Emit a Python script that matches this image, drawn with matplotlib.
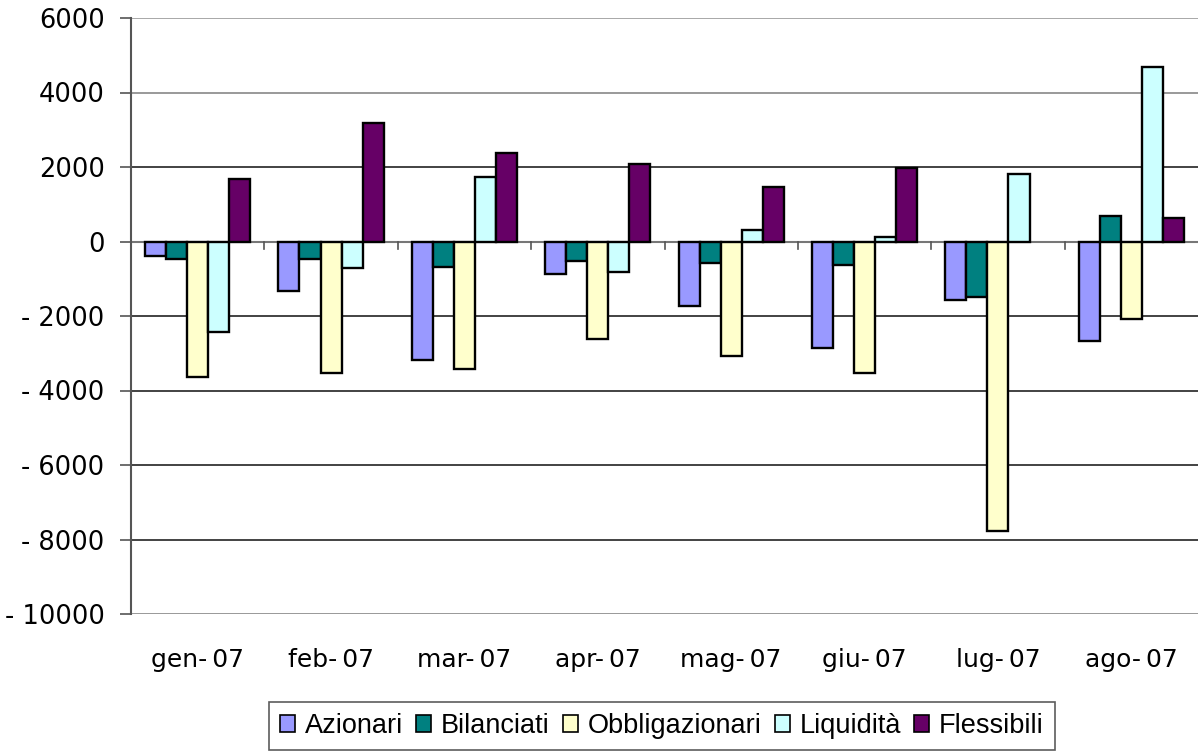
import numpy as np
import matplotlib.pyplot as plt
from matplotlib.patches import Patch

mesi = ["gen-07", "feb-07", "mar-07", "apr-07", "mag-07", "giu-07", "lug-07", "ago-07"]
azionari = [-400, -1330, -3190, -870, -1740, -2850, -1560, -2660]
bilanciati = [-470, -470, -690, -530, -570, -630, -1500, 690]
obbligazionari = [-3650, -3530, -3420, -2610, -3080, -3530, -7760, -2080]
liquidita = [-2430, -700, 1740, -820, 310, 130, 1800, 4690]
flessibili = [1680, 3190, 2370, 2090, 1450, 1960, 0, 640]

serie = [azionari, bilanciati, obbligazionari, liquidita, flessibili]
nomi = ["Azionari", "Bilanciati", "Obbligazionari", "Liquidità", "Flessibili"]
colori = ["#9999FF", "#008080", "#FFFFCC", "#CCFFFF", "#660066"]

fig = plt.figure(figsize=(11.98, 7.51), dpi=100)
ax = fig.add_axes([131/1198, 137/751, 1 - 131/1198, (614-18)/751])

x = np.arange(len(mesi))
w = 0.158
for i, (vals, col) in enumerate(zip(serie, colori)):
    pos = x + (i - 2) * w
    lw = [1.7 if v != 0 else 0 for v in vals]  # niente barra per valore nullo
    ax.bar(pos, vals, width=w, color=col, edgecolor="black", linewidth=lw, zorder=3)

ax.set_xlim(-0.5, len(mesi) - 0.5)
ax.set_ylim(-10000, 6000)
yt = list(range(-10000, 6001, 2000))
ax.set_yticks(yt)
ax.set_yticklabels([str(v).replace("-", "- ") for v in yt],
                   fontsize=18.5, family="DejaVu Sans")
ax.yaxis.grid(True, linewidth=1.2, zorder=0)
grid_col = {-10000: "#888888", 6000: "#999999", 4000: "#888888"}
for v, gl in zip(yt, ax.get_ygridlines()):
    gl.set_color(grid_col.get(v, "#222222"))

# asse x sullo zero, etichette in basso
ax.spines["bottom"].set_visible(False)
ax.spines["top"].set_visible(False)
ax.spines["right"].set_visible(False)
ax.spines["left"].set_color("#555555")
ax.spines["left"].set_linewidth(1.5)
ax.axhline(0, color="#777777", linewidth=1.5, zorder=2)
for b in np.arange(0.5, len(mesi) - 0.5, 1):
    ax.plot([b, b], [0, -190], color="#555555", linewidth=1.2, zorder=2)

ax.set_xticks(x)
ax.set_xticklabels([m.replace("-", "-\u2009") for m in mesi], fontsize=18, family="DejaVu Sans")
ax.tick_params(axis="x", length=0, pad=24.5)
ax.tick_params(axis="y", length=8, width=1.2, color="#555555", pad=11)

handles = [Patch(facecolor=c, edgecolor="black", linewidth=1.2) for c in colori]
leg = fig.legend(handles, nomi, loc="center", bbox_to_anchor=(662/1198, 1 - 726/751),
                 ncol=5, frameon=True, fancybox=False, edgecolor="#333333",
                 prop={"family": "Liberation Sans", "size": 19.5},
                 handlelength=0.55, handleheight=0.55, handletextpad=0.37,
                 columnspacing=0.48, borderpad=0.4, borderaxespad=0)
leg.get_frame().set_linewidth(1.2)

fig.savefig("out.png", dpi=100)
